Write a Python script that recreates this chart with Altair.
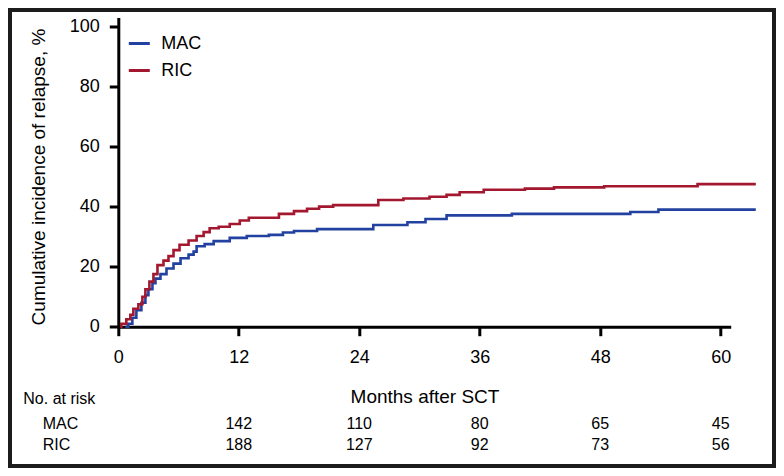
import altair as alt
import pandas as pd

# ---- data ----
groups = ["MAC", "RIC"]
colors = ["#2341a0", "#a3172f"]

mac_month = [0.7, 1.0, 1.4, 1.8, 2.3, 2.7, 3.0, 3.4, 3.7, 4.2, 4.8, 5.5, 6.2, 7.0, 7.5, 7.8,
             8.6, 9.5, 11.1, 12.8, 15.0, 16.4, 17.5, 19.8, 25.4, 28.8, 30.6, 32.7, 39.2,
             51.0, 53.8, 63.5]
mac_value = [0.0, 1.0, 3.0, 5.5, 8.0, 10.5, 12.5, 14.5, 16.0, 17.5, 19.4, 21.0, 22.8, 24.0,
             25.0, 26.8, 27.5, 28.5, 29.6, 30.2, 30.6, 31.4, 31.9, 32.5, 33.9, 34.8, 35.9,
             37.1, 37.6, 38.2, 39.0, 39.0]

ric_month = [0.2, 0.3, 0.8, 1.2, 1.5, 2.0, 2.4, 2.7, 3.1, 3.5, 3.9, 4.5, 5.0, 5.5, 6.1, 7.0,
             7.8, 8.5, 9.1, 10.0, 11.1, 12.1, 13.0, 16.0, 17.5, 18.8, 20.0, 21.4, 25.9,
             28.4, 31.0, 32.7, 34.0, 36.4, 40.5, 43.4, 48.4, 57.7, 63.5]
ric_value = [0.0, 1.0, 2.5, 4.0, 6.0, 7.5, 10.0, 12.5, 15.0, 17.5, 20.5, 22.0, 23.5, 25.5,
             27.3, 28.7, 30.2, 31.5, 32.8, 33.3, 34.2, 35.4, 36.3, 37.6, 38.5, 39.3, 40.0,
             40.5, 42.2, 42.7, 43.3, 43.9, 44.8, 45.6, 46.0, 46.4, 46.8, 47.5, 47.5]

risk_months = [12, 24, 36, 48, 60]
risk_mac = [142, 110, 80, 65, 45]
risk_ric = [188, 127, 92, 73, 56]

x_ticks = [0, 12, 24, 36, 48, 60]
y_ticks = [0, 20, 40, 60, 80, 100]

x_title = "Months after SCT"
y_title = "Cumulative incidence of relapse, %"
risk_title = "No. at risk"

# ---- tables ----
curves = pd.concat([
    pd.DataFrame({"month": mac_month, "value": mac_value, "group": "MAC"}),
    pd.DataFrame({"month": ric_month, "value": ric_value, "group": "RIC"}),
])
risk_mac_df = pd.DataFrame({"month": risk_months, "n": risk_mac})
risk_ric_df = pd.DataFrame({"month": risk_months, "n": risk_ric})

TITLE_FONT = "Liberation Sans, Arial, sans-serif"
SANS = "Liberation Sans, Arial, Helvetica, sans-serif"

W, H = 612.4, 309.2

x_enc = alt.X(
    "month:Q",
    scale=alt.Scale(domain=[0, 61], nice=False, zero=False),
    axis=alt.Axis(
        values=x_ticks, title=x_title, grid=False, labelFlush=False,
        domainColor="black", domainWidth=3, tickColor="black", tickWidth=3, tickSize=9,
        labelFont=SANS, labelFontSize=18, labelColor="black", labelPadding=13,
        titleFont=TITLE_FONT, titleFontSize=19, titleFontWeight="normal", titleColor="black",
        titleBaseline="alphabetic", titleY=76,
    ),
)
y_enc = alt.Y(
    "value:Q",
    scale=alt.Scale(domain=[0, 103], nice=False, zero=False),
    axis=alt.Axis(
        values=y_ticks, title=y_title, grid=False, labelFlush=False,
        domainColor="black", domainWidth=3, tickColor="black", tickWidth=3, tickSize=9,
        labelFont=SANS, labelFontSize=18, labelColor="black", labelPadding=10,
        titleFont=TITLE_FONT, titleFontSize=19, titleFontWeight="normal", titleColor="black",
        titleBaseline="alphabetic", titleAngle=270, titleAlign="center",
        titleX=-74, titleY=159,
    ),
)

lines = alt.Chart(curves).mark_line(interpolate="step-after", strokeWidth=2.6).encode(
    x=x_enc,
    y=y_enc,
    color=alt.Color(
        "group:N",
        scale=alt.Scale(domain=groups, range=colors),
        legend=alt.Legend(
            orient="none", legendX=9, legendY=14, title=None,
            symbolType="stroke", symbolStrokeWidth=3, symbolSize=441,
            labelFont=SANS, labelFontSize=18, labelColor="black",
            labelOffset=10, rowPadding=6,
        ),
    ),
)


def label_layer(text, xv, yv, align="left"):
    return alt.Chart(pd.DataFrame({"t": [text]})).mark_text(
        align=align, baseline="alphabetic", font=SANS, fontSize=16, color="black"
    ).encode(x=alt.value(xv), y=alt.value(yv), text="t:N")


risk_head = label_layer(risk_title, -95, 386.5)
mac_lab = label_layer(groups[0], -75.6, 411.5)
ric_lab = label_layer(groups[1], -75.6, 432.5)

risk_mac_txt = alt.Chart(risk_mac_df).mark_text(
    align="center", baseline="alphabetic", font=SANS, fontSize=16, color="black"
).encode(x=x_enc, y=alt.value(411.5), text="n:Q")
risk_ric_txt = alt.Chart(risk_ric_df).mark_text(
    align="center", baseline="alphabetic", font=SANS, fontSize=16, color="black"
).encode(x=x_enc, y=alt.value(432.5), text="n:Q")

frame = alt.Chart(pd.DataFrame({"f": [1]})).mark_rect(
    filled=False, stroke="#1c1c1c", strokeWidth=4
).encode(
    x=alt.value(-108.3), x2=alt.value(655.7), y=alt.value(-7.5), y2=alt.value(448.5)
)

chart = alt.layer(
    frame, lines, risk_head, mac_lab, ric_lab, risk_mac_txt, risk_ric_txt
).properties(
    width=W, height=H,
    autosize=alt.AutoSizeParams(type="none"),
    padding={"left": 110.3, "top": 9.5, "right": 45.3, "bottom": 141.3},
    background="white",
).configure_view(stroke=None)

chart.save("out.html", embed_options={"renderer": "svg", "actions": False})
